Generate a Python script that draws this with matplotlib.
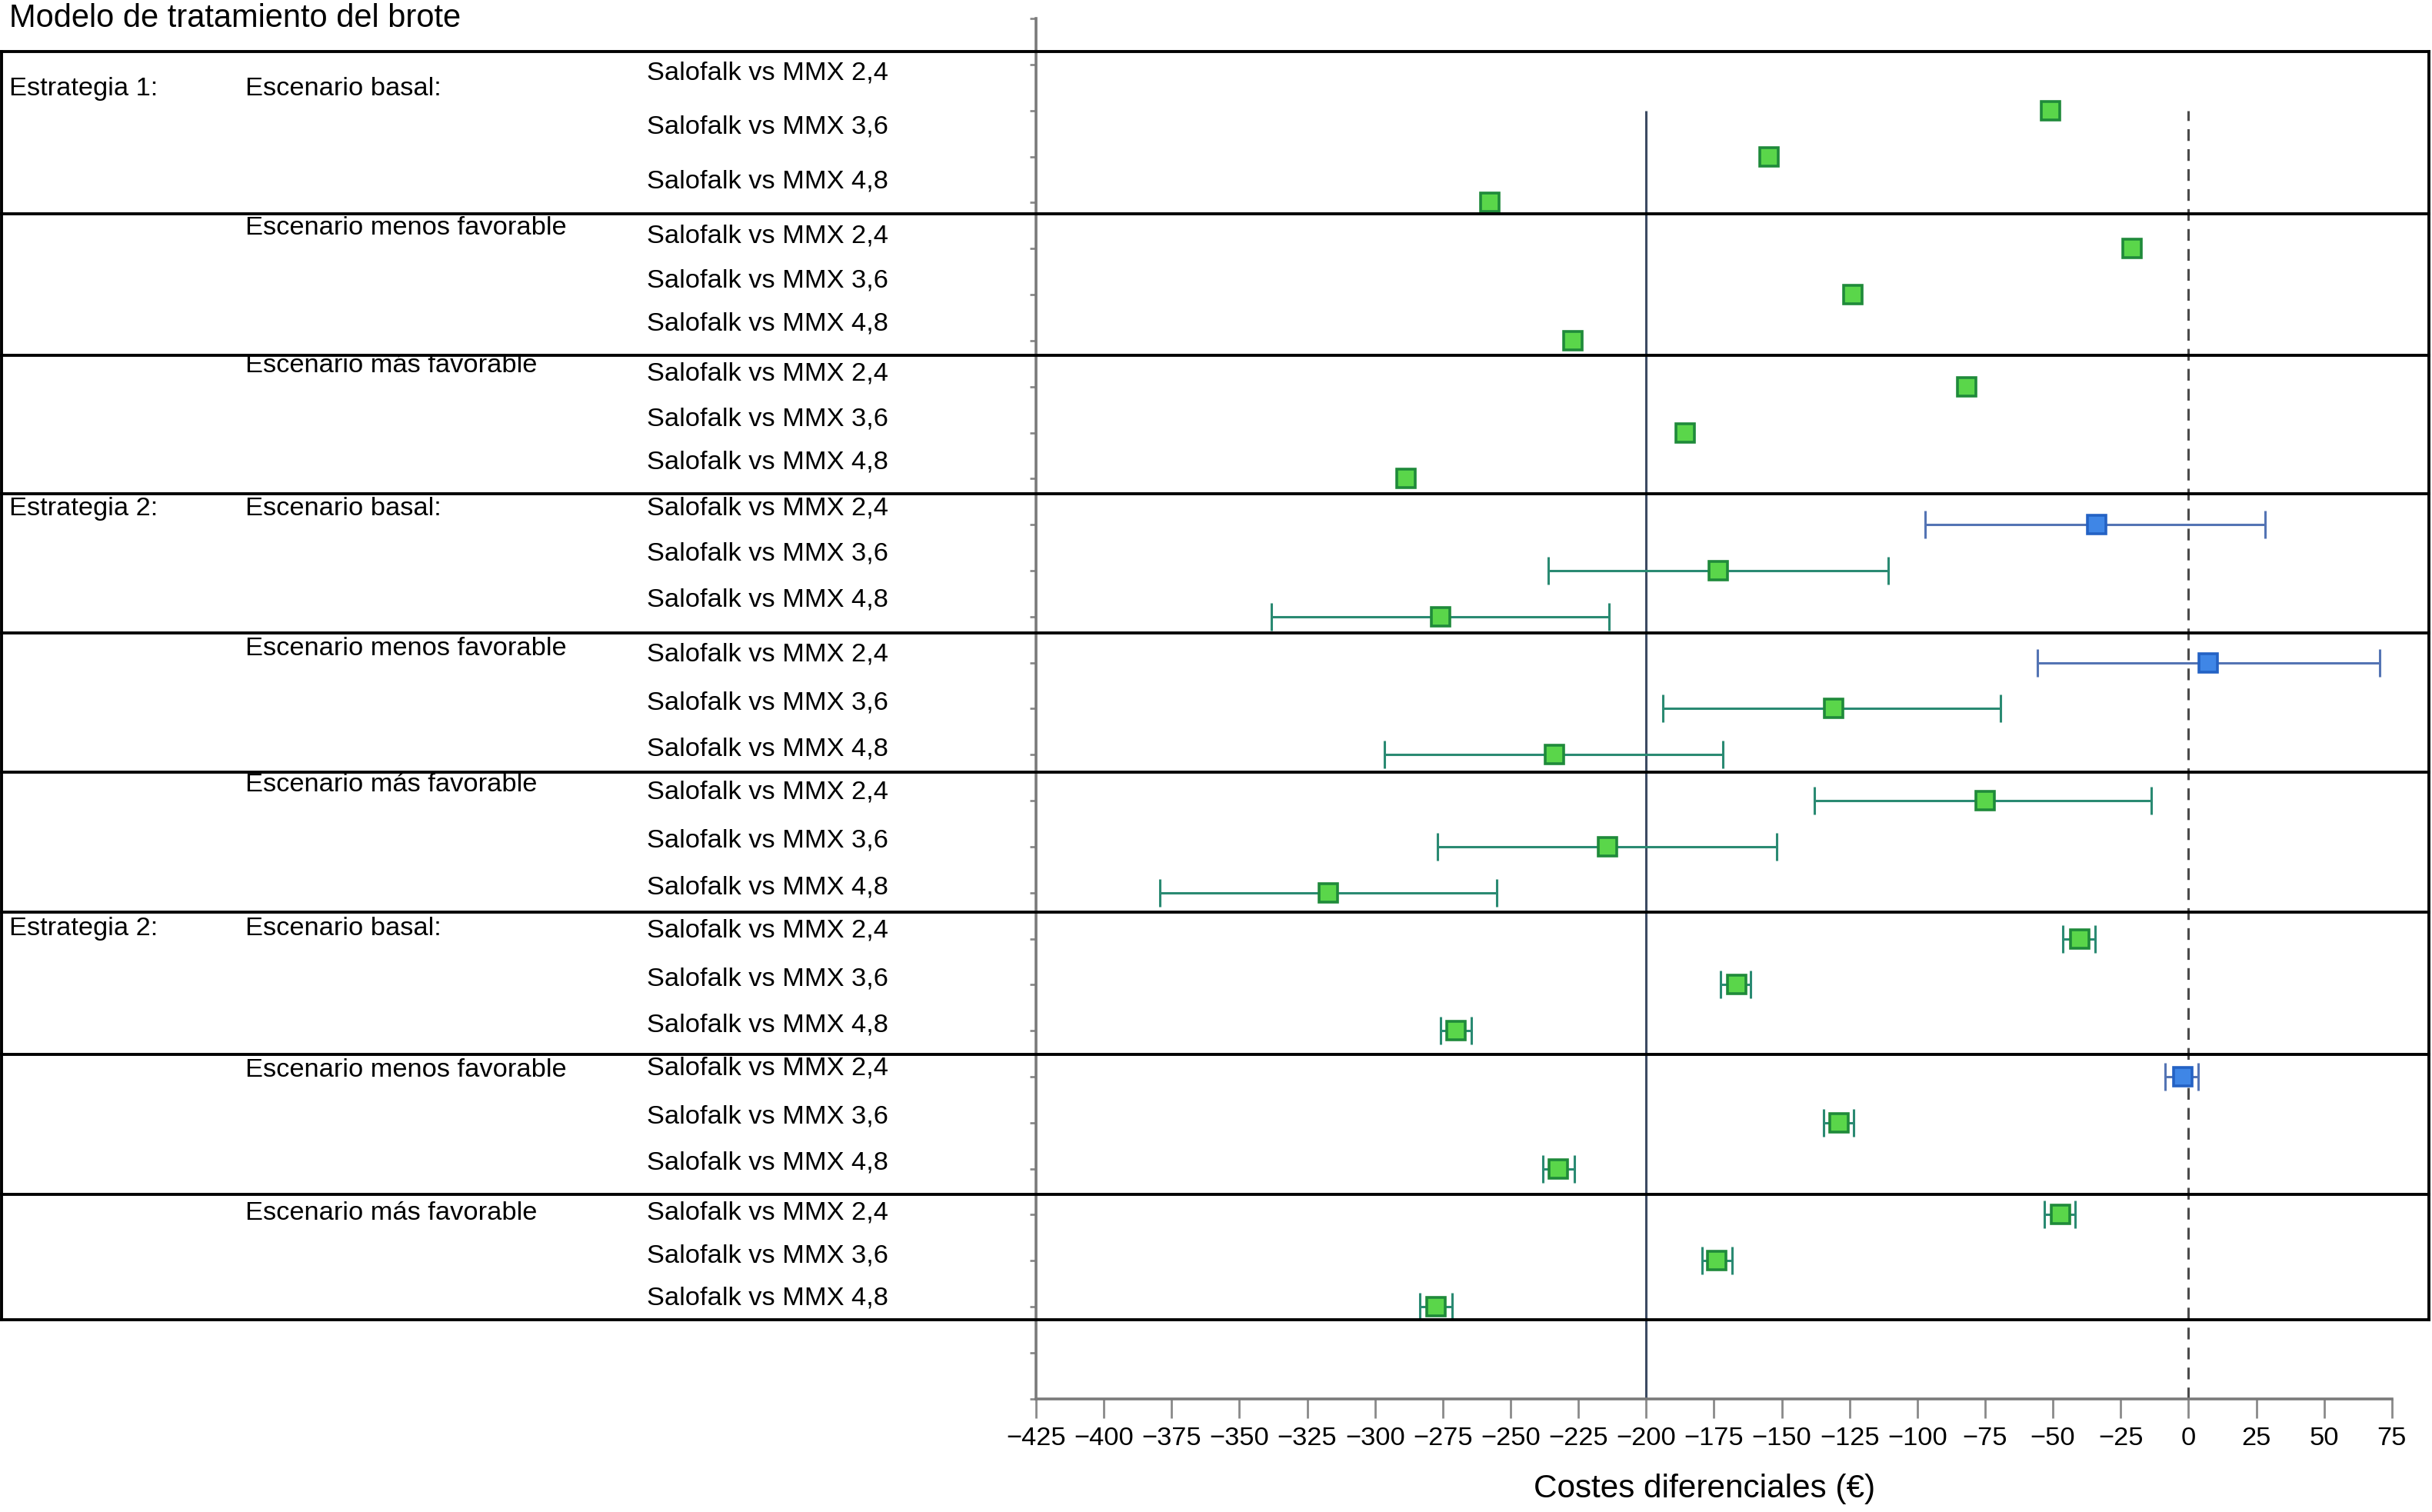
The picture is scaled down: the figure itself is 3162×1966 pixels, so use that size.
import numpy as np
import matplotlib.pyplot as plt
from matplotlib.lines import Line2D
from matplotlib.transforms import blended_transform_factory

plt.rcParams['font.family'] = ['Liberation Sans', 'DejaVu Sans']

# data
strategies = ["Estrategia 1:", "", "", "Estrategia 2:", "", "", "Estrategia 2:", "", ""]
scenarios = ["Escenario basal:", "Escenario menos favorable", "Escenario más favorable"] * 3
comparisons = ["Salofalk vs MMX 2,4", "Salofalk vs MMX 3,6", "Salofalk vs MMX 4,8"]

costs = [-50.9, -154.7, -257.7, -20.9, -123.8, -227.0, -81.8, -185.6, -288.6,
         -34.0, -173.4, -275.9, 7.4, -130.9, -233.7, -75.1, -214.2, -317.3,
         -40.1, -166.7, -270.0, -2.2, -129.0, -232.3, -47.1, -173.9, -277.4]
ci_low = [np.nan] * 9 + [-97.2, -236.0, -338.2, -55.8, -193.8, -296.6, -138.0, -277.0, -379.3,
                         -46.3, -172.5, -275.8, -8.6, -134.7, -238.1, -53.1, -179.4, -283.4]
ci_high = [np.nan] * 9 + [28.3, -110.8, -213.6, 70.5, -69.4, -171.7, -13.6, -151.8, -255.0,
                          -34.3, -161.5, -264.5, 3.6, -123.4, -226.5, -41.9, -168.2, -271.6]

x_ticks = list(range(-425, 76, 25))

# layout (data-y of table rules and text)
box_edges = [29.29, 25.75, 22.68, 19.68, 16.65, 13.62, 10.58, 7.48, 4.45, 1.72]
group_text_y = [28.48, 25.45, 22.45, 19.35, 16.31, 13.35, 10.21, 7.15, 4.04]
row_text_off = [[0.82, 0.64, 0.46]] + [[0.28, 0.3, 0.36]] * 2 + [[0.35, 0.37, 0.36]] + \
               [[0.18, 0.13, 0.12]] * 4 + [[0.04, 0.1, 0.19]]

costs = np.array(costs)
lo = np.array(ci_low)
hi = np.array(ci_high)
y = 28 - np.arange(len(costs))
crosses_zero = (lo < 0) & (hi > 0)

fig = plt.figure(figsize=(15.81, 9.83), dpi=200)
ax = fig.add_axes([0.426, 0.0749, 0.5575, 0.9128])

GREEN_FACE, GREEN_EDGE, GREEN_LINE = '#5ad64a', '#1f8a3a', '#2a8a72'
BLUE_FACE, BLUE_EDGE, BLUE_LINE = '#3f86e6', '#2462c4', '#5474b4'

ax.vlines(-200, 0, 28, color='#3c4a62', lw=1.1, zorder=1)
ax.vlines(0, 0, 28, color='#4a4a4a', lw=1.1, linestyles=(0, (5, 3.5)), zorder=1)

for i in range(len(costs)):
    blue = crosses_zero[i]
    face = BLUE_FACE if blue else GREEN_FACE
    edge = BLUE_EDGE if blue else GREEN_EDGE
    line = BLUE_LINE if blue else GREEN_LINE
    if not np.isnan(lo[i]):
        ax.errorbar(costs[i], y[i], xerr=[[costs[i] - lo[i]], [hi[i] - costs[i]]],
                    fmt='none', ecolor=line, elinewidth=1.1, capsize=6.5, capthick=1.1, zorder=2)
    ax.plot(costs[i], y[i], marker='s', ms=8.3, mfc=face, mec=edge, mew=1.3, ls='none', zorder=3)

ax.set_xlim(-425, 75)
ax.set_ylim(0, 30)
ax.set_xticks(x_ticks)
ax.set_yticks(range(0, 31))
ax.set_yticklabels([])
for s in ['top', 'right']:
    ax.spines[s].set_visible(False)
for s in ['left', 'bottom']:
    ax.spines[s].set_color('#7a7a7a')
    ax.spines[s].set_linewidth(1.3)
ax.tick_params(axis='x', length=9, width=1.0, color='#8a8a8a', labelsize=12.4, pad=4)
ax.tick_params(axis='y', length=3, width=1.0, color='#8a8a8a')
ax.set_xlabel('Costes diferenciales (€)', fontsize=15.2, labelpad=10)
ax.xaxis.set_label_coords(0.493, -0.054)

# table rules
tr = blended_transform_factory(fig.transFigure, ax.transData)
x0, x1 = 0.0006, 0.9987
for e in box_edges:
    fig.add_artist(Line2D([x0, x1], [e, e], transform=tr, color='black', lw=1.4, clip_on=False))
for xe in (x0, x1):
    fig.add_artist(Line2D([xe, xe], [box_edges[0], box_edges[-1]], transform=tr,
                          color='black', lw=1.4, clip_on=False))

fs = 12.4
for g in range(9):
    if strategies[g]:
        fig.text(0.0038, group_text_y[g], strategies[g], transform=tr, fontsize=fs, va='center')
    fig.text(0.1008, group_text_y[g], scenarios[g], transform=tr, fontsize=fs, va='center')
    for r in range(3):
        idx = g * 3 + r
        fig.text(0.266, y[idx] + row_text_off[g][r], comparisons[r], transform=tr,
                 fontsize=fs, va='center')

fig.text(0.0038, 0.9877, 'Modelo de tratamiento del brote', fontsize=15, va='center')

fig.savefig('out.png', dpi=200)
